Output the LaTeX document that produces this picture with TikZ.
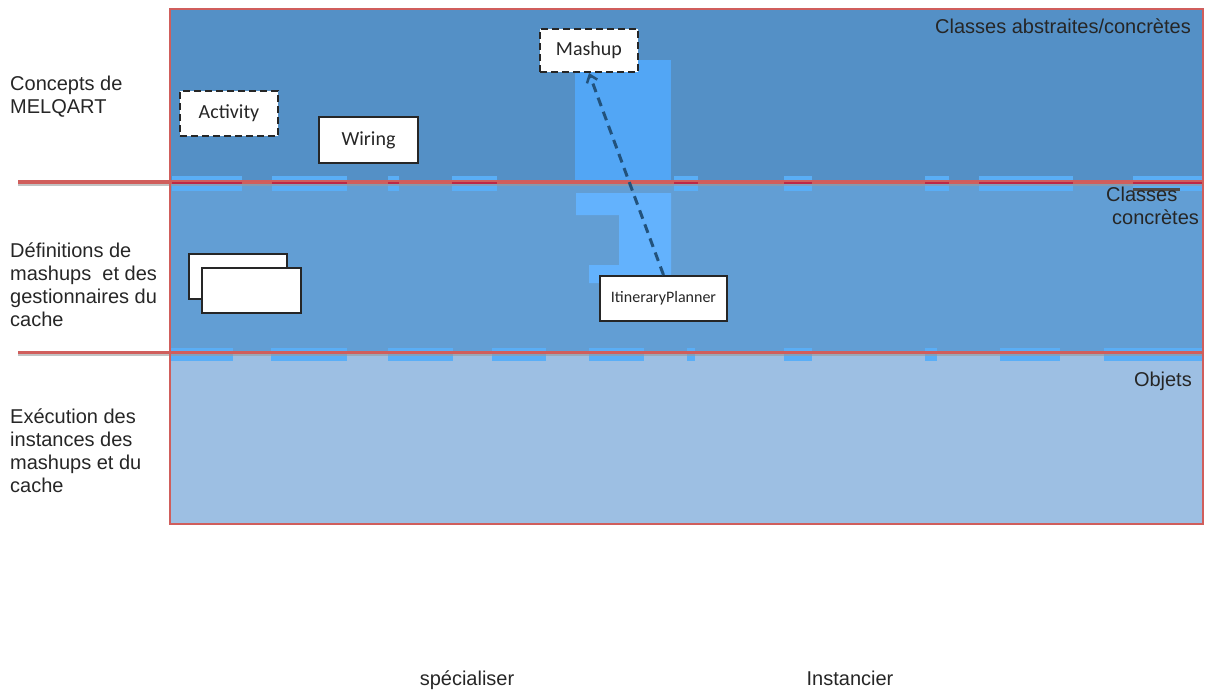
\documentclass[tikz,border=0pt]{standalone}
\usepackage{fontspec}
\setmainfont{Liberation Sans}
\newfontfamily\boxfont{Carlito}
\usetikzlibrary{arrows.meta}
\definecolor{bandtop}{RGB}{84,144,198}
\definecolor{bandmid}{RGB}{98,158,212}
\definecolor{bandlow}{RGB}{157,191,227}
\definecolor{colbright}{RGB}{82,166,245}
\definecolor{colpale}{RGB}{99,178,253}
\definecolor{seglight}{RGB}{90,174,246}
\definecolor{layerred}{RGB}{208,94,92}
\definecolor{segdark}{RGB}{190,40,70}
\definecolor{linkblue}{RGB}{34,82,124}
\tikzset{
	classbox/.style={draw=black!85, line width=2pt, fill=white, minimum width=98, minimum height=45,
			inner sep=0, font=\boxfont\fontsize{20}{24}\selectfont, text=black!85},
	abstractbox/.style={classbox, dash pattern=on 7pt off 4pt},
	layerlabel/.style={inner sep=0, align=left, anchor=west, font=\fontsize{20}{23}\selectfont, text=black!85},
	levellabel/.style={inner sep=0, font=\fontsize{20}{23}\selectfont, text=black!85},
	layerline/.style={layerred, line width=3.5pt},
	specialise/.style={linkblue, line width=3pt, dash pattern=on 9pt off 6pt,
			-{Straight Barb[length=7pt,width=11pt,line width=2.5pt]}}
}

\begin{document}
\begin{tikzpicture}[x=1pt, y=-1pt]
	\useasboundingbox (0,0) rectangle (1208,691);

	% bandes
	\fill[bandtop] (170,9) rectangle (1203,182);
	\fill[bandmid] (170,182) rectangle (1203,352);
	\fill[bandlow] (170,352) rectangle (1203,524);
	\fill[colbright] (575,60) rectangle (671,182);
	\fill[colpale] (576,193) -- (671,193) -- (671,283) -- (589,283) -- (589,265)
		-- (619,265) -- (619,215) -- (576,215) -- cycle;

	\foreach \a/\b in {172/242, 272/347, 388/399, 452/497, 674/698, 784/812, 925/949, 979/1073, 1133/1203}
		\fill[seglight] (\a,176) rectangle (\b,191);
	\foreach \a/\b in {170/233, 271/347, 388/453, 492/546, 589/644, 687/695, 784/812, 925/937, 1000/1060, 1104/1203}
		\fill[seglight] (\a,348) rectangle (\b,361);

	\draw[black!40, line width=2pt, opacity=.6] (18,184.5) -- (1203,184.5);
	\draw[black!40, line width=2pt, opacity=.6] (18,355) -- (1203,355);
	\draw[layerline] (18,182) -- (1203,182);
	\draw[layerline] (18,352.5) -- (1203,352.5);
	\foreach \a/\b in {172/242, 272/347, 388/399, 452/497, 674/698, 784/812, 925/949, 979/1073, 1133/1203}
		\draw[segdark, line width=1.5pt] (\a,183) -- (\b,183);
	\fill[black!70] (1133,188) rectangle (1180,191);
	\draw[layerred, line width=1.5pt] (170,9) rectangle (1203,524);

	% classes
	\node[abstractbox] (activity) at (229,113.5) {Activity};
	\node[classbox, minimum width=99, minimum height=46] (wiring) at (368.5,140) {Wiring};
	\node[abstractbox, minimum height=43] (mashup) at (589,50.5) {Mashup};
	\node[classbox] (cacheback) at (238,276.5) {};
	\node[classbox, minimum width=99] (cachefront) at (251.5,290.5) {};
	\node[classbox, minimum width=127, font=\boxfont\fontsize{16}{19}\selectfont] (planner) at (663.5,298.5) {ItineraryPlanner};

	\draw[specialise] (planner.north) -- (mashup.south);

	% niveaux
	\node[layerlabel] (concepts) at (10,97) {Concepts de\\MELQART};
	\node[layerlabel] (definitions) at (10,285) {Définitions de\\mashups~ et des\\gestionnaires du\\cache};
	\node[layerlabel] (execution) at (10,451) {Exécution des\\instances des\\mashups et du\\cache};
	\node[levellabel, anchor=east] (abstraites) at (1191,26) {Classes abstraites/concrètes};
	\node[levellabel, align=left, anchor=north west] (concretes) at (1106,187) {Classes\\\hspace*{6pt}concrètes};
	\node[levellabel, anchor=east] (objets) at (1192,381) {Objets};
	\node[levellabel, anchor=base] (specialiser) at (467,685) {spécialiser};
	\node[levellabel, anchor=base] (instancier) at (850,685) {Instancier};
\end{tikzpicture}
\end{document}
